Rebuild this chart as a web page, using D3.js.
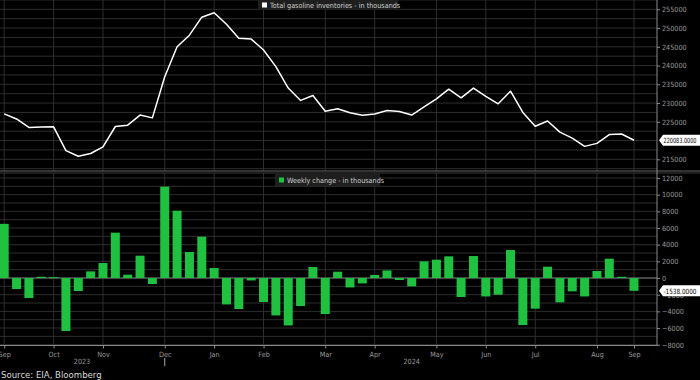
<!DOCTYPE html>
<html><head><meta charset="utf-8">
<script src="https://cdn.jsdelivr.net/npm/d3@7"></script>
<style>
html,body{margin:0;padding:0;background:#000;}
svg{display:block;}
text{font-family:"DejaVu Sans Condensed","Liberation Sans Narrow","Liberation Sans",sans-serif;}
</style></head>
<body>
<svg id="c" width="700" height="380"></svg>
<script>
// ---- data ----
const inventories = [227100, 225750, 223500, 223600, 223650, 217300, 215800, 216550, 218300, 223750,
  224100, 226800, 226050, 237000, 245000, 248100, 252900, 254100, 251000, 247300,
  247050, 244150, 239700, 234000, 230700, 232000, 227800, 228500, 227400, 226750,
  227100, 228000, 227750, 226800, 229000, 231100, 233700, 231400, 234000, 231800,
  229800, 233150, 227500, 223800, 225200, 222250, 220650, 218450, 219250, 221600,
  221750, 220083];
const weeklyChange = [6500, -1320, -2400, 150, 100, -6360, -1560, 800, 1800, 5440,
  400, 2680, -720, 10960, 8080, 3120, 4960, 1200, -3170, -3720,
  -290, -2880, -4490, -5690, -3360, 1320, -4320, 760, -1130, -650,
  360, 910, -240, -1000, 2000, 2200, 2600, -2280, 2640, -2210,
  -2000, 3360, -5640, -3680, 1360, -2920, -1600, -2210, 840, 2320,
  150, -1538];
const monthLabels = ["Sep","Oct","Nov","Dec","Jan","Feb","Mar","Apr","May","Jun","Jul","Aug","Sep"];
const monthWeekIndex = [0, 4, 8, 13, 17, 21, 26, 30, 35, 39, 43, 48, 51];
const yearLabels = ["2023", "2024"];
const yearCenterIndex = [6.3, 33];
const yearDividerIndex = [13];
const topTicks = [215000, 225000, 230000, 235000, 240000, 245000, 250000, 255000];
const bottomTicks = [-8000, -6000, -4000, -2000, 0, 2000, 4000, 6000, 8000, 10000, 12000];
const lastInventoryLabel = "220083.0000";
const lastChangeLabel = "-1538.0000";
const topLegend = "Total gasoline inventories - in thousands";
const bottomLegend = "Weekly change - in thousands";
const source = "Source: EIA, Bloomberg";

// ---- layout ----
const svg = d3.select("#c");
const axisX = 657;
const grid = "#2e2e2e";
const green = "#20c040";
const tickCol = "#9a9a9a";

const x = d3.scaleLinear().domain([0, inventories.length - 1]).range([4.2, 634]);
const yTop = d3.scaleLinear().domain([215000, 255000]).range([159.3, 9.3]);
const yBot = d3.scaleLinear().domain([-8000, 12000]).range([344.7, 178]);

svg.append("rect").attr("width", 700).attr("height", 380).attr("fill", "#000");

// horizontal grid - top
const topGrid = d3.range(212500, 257501, 2500);
svg.append("g").selectAll("line").data(topGrid).join("line")
  .attr("x1", 0).attr("x2", axisX).attr("y1", d => yTop(d)).attr("y2", d => yTop(d))
  .attr("stroke", grid).attr("stroke-width", 1);
// horizontal grid - bottom
const botGrid = d3.range(-8000, 12001, 1000);
svg.append("g").selectAll("line").data(botGrid).join("line")
  .attr("x1", 0).attr("x2", axisX).attr("y1", d => yBot(d)).attr("y2", d => yBot(d))
  .attr("stroke", grid).attr("stroke-width", 1);

// vertical grid
svg.append("g").selectAll("line").data(monthWeekIndex).join("line")
  .attr("x1", d => x(d)).attr("x2", d => x(d)).attr("y1", 0).attr("y2", 171)
  .attr("stroke", grid);
svg.append("g").selectAll("line").data(monthWeekIndex).join("line")
  .attr("x1", d => x(d)).attr("x2", d => x(d)).attr("y1", 173).attr("y2", 345)
  .attr("stroke", grid);

// panel separator
svg.append("line").attr("x1", 0).attr("x2", 700).attr("y1", 171).attr("y2", 171).attr("stroke", "#666");
svg.append("line").attr("x1", 0).attr("x2", 700).attr("y1", 173).attr("y2", 173).attr("stroke", "#3a3a3a");

// zero line
svg.append("line").attr("x1", 0).attr("x2", axisX).attr("y1", yBot(0)).attr("y2", yBot(0))
  .attr("stroke", "#777");

// bars
const bw = 9;
svg.append("g").selectAll("rect").data(weeklyChange).join("rect")
  .attr("x", (d, i) => x(i) - bw / 2)
  .attr("width", bw)
  .attr("y", d => Math.min(yBot(d), yBot(0)))
  .attr("height", d => Math.max(1, Math.abs(yBot(d) - yBot(0))))
  .attr("fill", green);

// line
svg.append("path").datum(inventories)
  .attr("d", d3.line().x((d, i) => x(i)).y(d => yTop(d)))
  .attr("fill", "none").attr("stroke", "#fff").attr("stroke-width", 1.5)
  .attr("stroke-linejoin", "round");

// right axes
svg.append("line").attr("x1", axisX).attr("x2", axisX).attr("y1", 0).attr("y2", 346)
  .attr("stroke", "#8a8a8a");
const ra = svg.append("g").attr("transform", `translate(${axisX},0)`)
  .call(d3.axisRight(yTop).tickValues(topTicks).tickSize(3).tickPadding(2).tickFormat(d3.format("d")));
const rb = svg.append("g").attr("transform", `translate(${axisX},0)`)
  .call(d3.axisRight(yBot).tickValues(bottomTicks).tickSize(3).tickPadding(2).tickFormat(d3.format("d")));
[ra, rb].forEach(g => {
  g.select(".domain").remove();
  g.selectAll("line").attr("stroke", "#8a8a8a");
  g.selectAll("text").attr("fill", tickCol).attr("font-size", 7.2);
});

// bottom axis
svg.append("line").attr("x1", 0).attr("x2", axisX).attr("y1", 345.5).attr("y2", 345.5).attr("stroke", "#8a8a8a");
const xa = svg.append("g").attr("transform", "translate(0,345.5)")
  .call(d3.axisBottom(x).tickValues(monthWeekIndex).tickSize(3).tickPadding(3)
    .tickFormat((d, i) => monthLabels[i]));
xa.select(".domain").remove();
xa.selectAll("line").attr("stroke", "#8a8a8a");
xa.selectAll("text").attr("fill", tickCol).attr("font-size", 7.2);

// year labels
svg.append("g").selectAll("text").data(yearLabels).join("text")
  .attr("x", (d, i) => x(yearCenterIndex[i])).attr("y", 364)
  .attr("text-anchor", "middle").attr("fill", tickCol).attr("font-size", 7.2).text(d => d);
svg.append("g").selectAll("line").data(yearDividerIndex).join("line")
  .attr("x1", d => x(d)).attr("x2", d => x(d)).attr("y1", 358).attr("y2", 366)
  .attr("stroke", "#aaa");

// value labels
function valueTag(yv, label) {
  const g = svg.append("g").attr("transform", `translate(659,${yv})`);
  g.append("path").attr("d", "M0,0 L4,-5.5 L41,-5.5 L41,5.5 L4,5.5 Z").attr("fill", "#fff");
  g.append("text").attr("x", 4.5).attr("y", 2.8).attr("font-size", 7.2).attr("fill", "#000")
    .attr("textLength", 33).attr("lengthAdjust", "spacingAndGlyphs").text(label);
}
valueTag(yTop(inventories[inventories.length - 1]), lastInventoryLabel);
valueTag(yBot(weeklyChange[weeklyChange.length - 1]), lastChangeLabel);

// legends
function legend(xp, yp, w, h, color, label) {
  const g = svg.append("g").attr("transform", `translate(${xp},${yp})`);
  g.append("rect").attr("width", w).attr("height", h).attr("fill", "#1e1e1e");
  g.append("rect").attr("x", 4).attr("y", h / 2 - 2.5).attr("width", 5).attr("height", 5).attr("fill", color);
  g.append("text").attr("x", 12).attr("y", h / 2 + 2.5).attr("font-size", 7.2).attr("fill", "#cfcfcf").text(label);
}
legend(258, 0, 140, 10, "#fff", topLegend);
legend(275, 174, 105, 12, green, bottomLegend);

// source
svg.append("text").attr("x", 1).attr("y", 378).attr("font-size", 9.5).attr("fill", "#d8d8d8").text(source);
</script>
</body></html>
